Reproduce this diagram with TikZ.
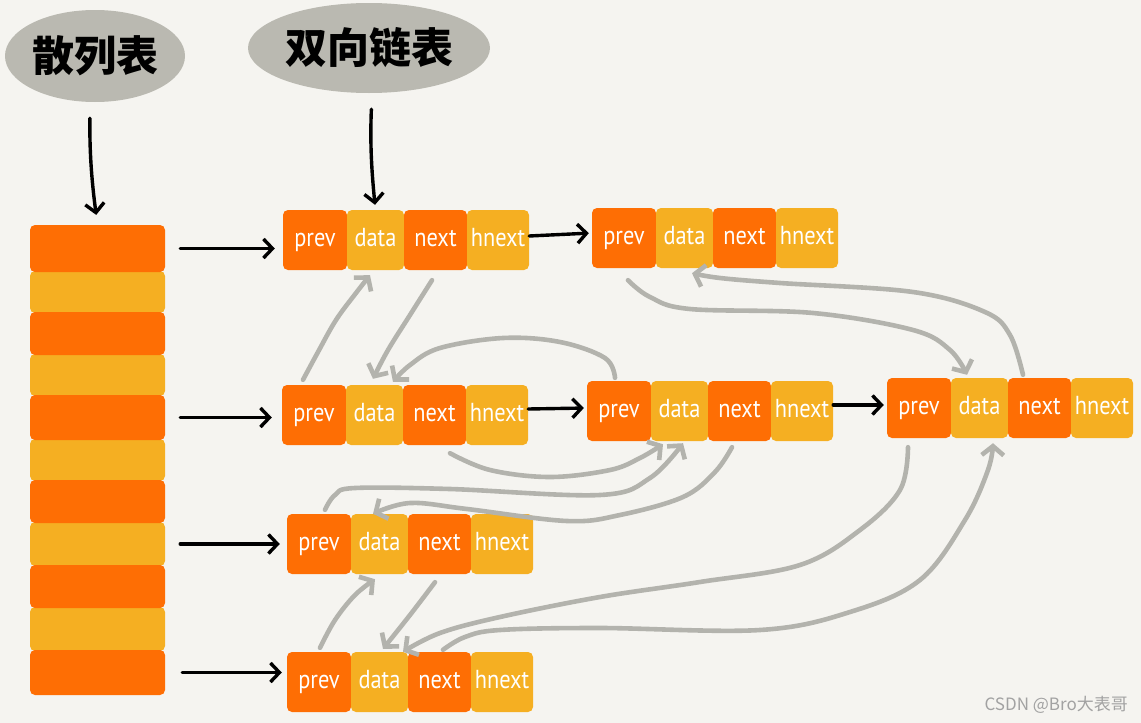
\documentclass[tikz,border=0pt]{standalone}
\usepackage{fontspec}
\setmainfont{PT Sans}
\newfontfamily\cellfont[FakeStretch=0.86]{PT Sans}
\newfontfamily\cjkfont{Noto Sans CJK SC}
\usetikzlibrary{arrows.meta,shapes.geometric}
\definecolor{bg}{HTML}{F5F4F0}
\definecolor{org}{HTML}{FE6E04}
\definecolor{yel}{HTML}{F5AF22}
\definecolor{bub}{HTML}{BAB9B1}
\definecolor{gry}{HTML}{B3B3AD}
\definecolor{wmc}{HTML}{A2A2A2}
\tikzset{
  cell/.style={rectangle, rounded corners=5pt, minimum height=60pt, inner sep=0pt,
    text=white, text height=17pt, text depth=5pt,
    font=\cellfont\fontsize{26}{26}\selectfont},
  cello/.style={cell, fill=org},
  celly/.style={cell, fill=yel},
  stripe/.style={rectangle, rounded corners=5pt, minimum width=135pt, inner sep=0pt},
  bubble/.style={ellipse, fill=bub, inner sep=0pt, text=black,
    font=\cjkfont\bfseries\fontsize{42}{42}\selectfont},
  blk/.style={draw=black, line width=3.4pt, line cap=round,
    -{Straight Barb[length=9pt,width=19pt]}},
  gryarr/.style={draw=gry, line width=4.6pt, line cap=round, line join=round,
    -{Straight Barb[length=9pt,width=22pt]}},
}
\newcommand\mklist[3]{%
  \node[cello, minimum width=64pt] (#1p) at (#2+32,#3) {prev};
  \node[celly, minimum width=57pt] (#1d) at (#2+92.5,#3) {data};
  \node[cello, minimum width=63pt] (#1n) at (#2+152.5,#3) {next};
  \node[celly, minimum width=62pt] (#1h) at (#2+215,#3) {hnext};
}
\begin{document}
\begin{tikzpicture}[x=1pt,y=-1pt]
\fill[bg] (0,0) rectangle (1141,723);
\useasboundingbox (0,0) rectangle (1141,723);

% bubbles
\node[bubble, minimum width=180pt, minimum height=92pt] (l1) at (95,56) {散列表};
\node[bubble, minimum width=242pt, minimum height=90pt] (l2) at (369,48) {双向链表};

% hash table stripes
\node[stripe, fill=yel, minimum height=42pt] (s2) at (97.5,292) {};
\node[stripe, fill=yel, minimum height=42pt] (s4) at (97.5,375) {};
\node[stripe, fill=yel, minimum height=42pt] (s6) at (97.5,460) {};
\node[stripe, fill=yel, minimum height=44pt] (s8) at (97.5,544) {};
\node[stripe, fill=yel, minimum height=44pt] (s10) at (97.5,629) {};
\node[stripe, fill=org, minimum height=47pt] (s1) at (97.5,248.5) {};
\node[stripe, fill=org, minimum height=43pt] (s3) at (97.5,333.5) {};
\node[stripe, fill=org, minimum height=45pt] (s5) at (97.5,417.5) {};
\node[stripe, fill=org, minimum height=43pt] (s7) at (97.5,501.5) {};
\node[stripe, fill=org, minimum height=43pt] (s9) at (97.5,586.5) {};
\node[stripe, fill=org, minimum height=45pt] (s11) at (97.5,672.5) {};

% linked list nodes
\mklist{aa}{283}{240}
\mklist{ab}{592}{238}
\mklist{ba}{282}{415}
\mklist{bb}{587}{411}
\mklist{bc}{887}{408}
\mklist{ca}{287}{544}
\mklist{da}{287}{682}

% black arrows
\draw[blk, shorten <=16pt, shorten >=10pt] ([xshift=-5pt]l1.south) to[bend right=4] (s1.north);
\draw[blk, shorten <=16pt, shorten >=5pt] ([xshift=3pt]l2.south) to[bend right=4] (aad.north);
\draw[blk, shorten <=15pt, shorten >=8pt] (s1.east) -- (s1.east -| aap.west);
\draw[blk, shorten <=15pt, shorten >=10pt] (s5.east) -- (s5.east -| bap.west);
\draw[blk, shorten <=15pt, shorten >=7pt] (s8.east) -- (s8.east -| cap.west);
\draw[blk, shorten <=17pt, shorten >=5pt] (s11.east) -- (s11.east -| dap.west);
\draw[blk, shorten >=3pt] ([yshift=4pt]aah.east) -- ([yshift=5pt]abp.west);
\draw[blk, shorten >=3pt] ([yshift=6pt]bah.east) -- ([yshift=3pt]bbp.west);
\draw[blk, shorten >=3pt] ([yshift=6pt]bbh.east) -- ([yshift=3pt]bcp.west);

% gray pointer arrows
\draw[gryarr] plot[smooth, tension=0.6] coordinates {([xshift=-11pt,yshift=5pt]bap.north) (318,352) (336,320) (356,293) ([xshift=-5.5pt,yshift=-5pt]aad.south)};
\draw[gryarr] plot[smooth, tension=0.6] coordinates {([xshift=-3.5pt,yshift=-10pt]aan.south) (410,315) (388,350) ([xshift=-1.5pt,yshift=6pt]bad.north)};
\draw[gryarr] plot[smooth, tension=0.6] coordinates {([xshift=-4pt,yshift=3pt]bbp.north) (605,358) (560,342) (503,338) (440,348) (410,365) ([xshift=18.5pt,yshift=3pt]bad.north)};
\draw[gryarr] plot[smooth, tension=0.6] coordinates {([xshift=4pt,yshift=-12pt]abp.south) (650,297) (690,309) (813,313) (913,330) (950,350) ([xshift=-12.5pt,yshift=3pt]bcd.north)};
\draw[gryarr] plot[smooth, tension=0.6] coordinates {([xshift=-16.5pt,yshift=3pt]bcn.north) (1010,335) (985,312) (913,292) (780,283) (720,278) ([xshift=7.5pt,yshift=-5pt]abd.south)};
\draw[gryarr] plot[smooth, tension=0.6] coordinates {([xshift=15.5pt,yshift=-8pt]ban.south) (490,470) (550,477) (610,470) (640,458) ([xshift=-16.5pt,yshift=-3pt]bbd.south)};
\draw[gryarr] plot[smooth, tension=0.6] coordinates {([xshift=6pt,yshift=4pt]cap.north) (335,495) (355,488) (450,489) (600,495) (650,478) ([xshift=3.5pt,yshift=-2pt]bbd.south)};
\draw[gryarr] plot[smooth, tension=0.6] coordinates {([xshift=-7.5pt,yshift=-6pt]bbn.south) (715,472) (683,497) (620,515) (567,521) (467,509) (410,503) ([xshift=-6.5pt,yshift=0pt]cad.north)};
\draw[gryarr] plot[smooth, tension=0.6] coordinates {([xshift=1pt,yshift=4pt]dap.north) (335,620) (355,595) ([xshift=-4.5pt,yshift=-5pt]cad.south)};
\draw[gryarr] plot[smooth, tension=0.6] coordinates {([xshift=-4.5pt,yshift=-8pt]can.south) (410,615) ([xshift=3.5pt,yshift=3pt]dad.north)};
\draw[gryarr] plot[smooth, tension=0.6] coordinates {([xshift=-11pt,yshift=-9pt]bcp.south) (900,490) (860,530) (800,565) (700,582) (600,597) (500,617) (440,633) ([xshift=23.5pt,yshift=0pt]dad.north)};
\draw[gryarr] plot[smooth, tension=0.6] coordinates {([xshift=3.5pt,yshift=2pt]dan.north) (465,637) (500,630) (600,628) (760,630) (850,612) (920,580) (965,520) (988,470) ([xshift=13.5pt,yshift=-5pt]bcd.south)};

% watermark
\node[font=\cjkfont\fontsize{17}{17}\selectfont, text=wmc, anchor=east, inner sep=0pt] (wm) at (1128,705) {CSDN @Bro大表哥};
\end{tikzpicture}
\end{document}
